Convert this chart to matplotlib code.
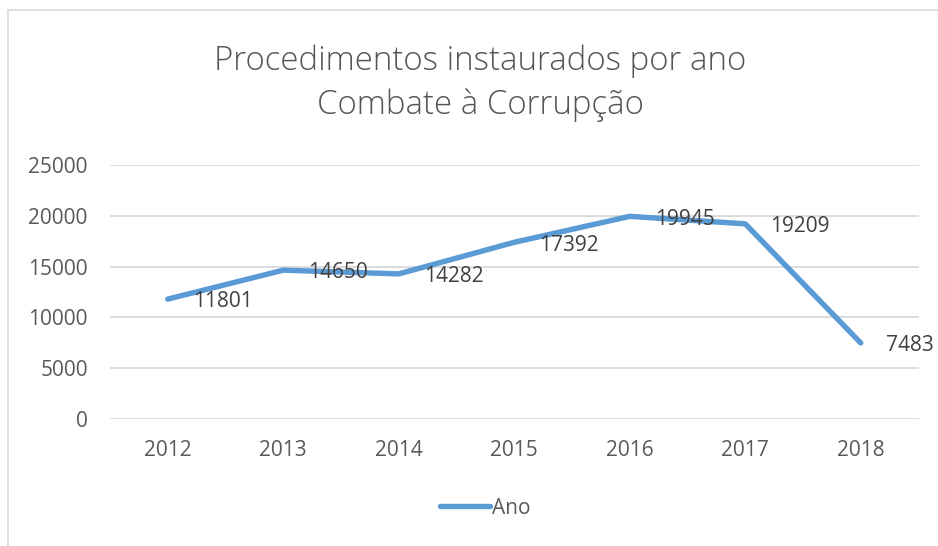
import matplotlib
matplotlib.use("Agg")
import matplotlib.pyplot as plt
from matplotlib.patches import Rectangle

# data
anos = ["2012", "2013", "2014", "2015", "2016", "2017", "2018"]
procedimentos = [11801, 14650, 14282, 17392, 19945, 19209, 7483]
serie = "Ano"
titulo = "Procedimentos instaurados por ano\nCombate à Corrupção"

plt.rcParams['font.family'] = ['Open Sans', 'DejaVu Sans']

W, H = 938, 546
fig = plt.figure(figsize=(W / 100, H / 100), dpi=100)

# chart border (Excel style)
fig.patches.append(Rectangle((8 / W, -0.1), 1.2, 1 - 10 / H + 0.1,
                             transform=fig.transFigure, fill=False,
                             edgecolor='#D9D9D9', linewidth=1.2))

ax = fig.add_axes([110 / W, 127 / H, 808.5 / W, 254 / H])
x = list(range(len(anos)))
ax.plot(x, procedimentos, color='#5B9BD5', linewidth=3.9,
        solid_capstyle='round', solid_joinstyle='round', label=serie, zorder=3)

for xi, v in zip(x, procedimentos):
    ax.annotate(str(v), (xi, v), xytext=(18, -2), textcoords='offset points',
                ha='left', va='center', fontsize=15, color='#404040', zorder=4)

ax.set_xlim(-0.5, len(anos) - 0.5)
ax.set_ylim(0, 25000)
ax.set_yticks(range(0, 25001, 5000))
ax.set_xticks(x)
ax.set_xticklabels(anos)
ax.tick_params(axis='both', length=0, labelsize=15, labelcolor='#595959')
ax.tick_params(axis='x', pad=15)
ax.tick_params(axis='y', pad=16)
ax.grid(axis='y', color='#D9D9D9', linewidth=1.3)
ax.set_axisbelow(True)
for s in ax.spines.values():
    s.set_visible(False)

fig.text(480 / W, 1 - 83 / H, titulo, ha='center', va='center',
         fontsize=23.8, color='#555555', fontweight='light', linespacing=1.4)

fig.legend(loc='center', bbox_to_anchor=(485 / W, 1 - 508 / H), frameon=False,
           fontsize=15, labelcolor='#595959', handlelength=2.4,
           handletextpad=0.1)

fig.savefig("out.png", dpi=100)
